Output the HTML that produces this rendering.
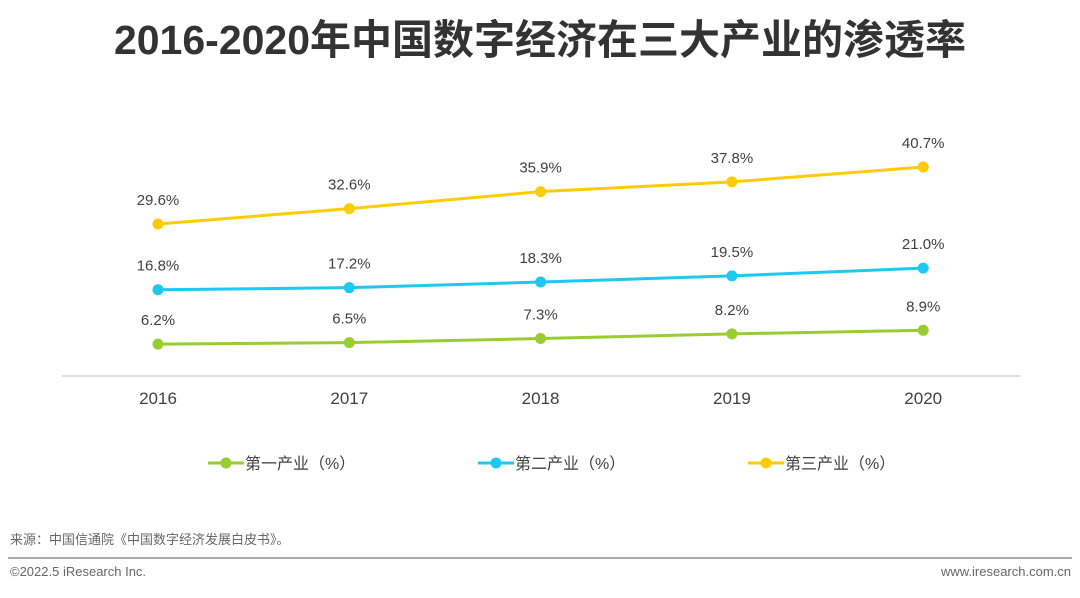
<!DOCTYPE html>
<html><head><meta charset="utf-8"><style>
body{margin:0;width:1080px;height:593px;background:#fff;overflow:hidden;font-family:"Liberation Sans","Noto Sans CJK SC",sans-serif;}
</style></head><body>
<svg width="1080" height="593" xmlns="http://www.w3.org/2000/svg">
<text x="540" y="54" text-anchor="middle" font-size="41" font-weight="bold" fill="#333" font-family="Liberation Sans, Noto Sans CJK SC, sans-serif">2016-2020年中国数字经济在三大产业的渗透率</text>
<line x1="62" y1="376" x2="1020" y2="376" stroke="#bfbfbf" stroke-width="1"/>
<g id="plot"></g>
<g id="legend"></g>
<text x="10" y="544" font-size="13" fill="#666">来源：中国信通院《中国数字经济发展白皮书》。</text>
<line x1="8" y1="558" x2="1072" y2="558" stroke="#aaa" stroke-width="2"/>
<text x="10" y="576" font-size="13" fill="#666">©2022.5 iResearch Inc.</text>
<text x="1071" y="576" font-size="13" fill="#666" text-anchor="end">www.iresearch.com.cn</text>
</svg>
<script>
const years=["2016","2017","2018","2019","2020"];
const primary=[6.2,6.5,7.3,8.2,8.9];
const secondary=[16.8,17.2,18.3,19.5,21.0];
const tertiary=[29.6,32.6,35.9,37.8,40.7];
const seriesNames=["第一产业（%）","第二产业（%）","第三产业（%）"];
const colors=["#9acd32","#1ec8f0","#ffcc00"];
const NS="http://www.w3.org/2000/svg";
const xs=i=>158+i*191.3;
const ys=v=>376-v*5.135;
const plot=document.getElementById('plot');
function mk(tag,attrs,parent){const e=document.createElementNS(NS,tag);for(const k in attrs)e.setAttribute(k,attrs[k]);parent.appendChild(e);return e;}
years.forEach((y,i)=>{
  const t=mk('text',{x:xs(i),y:404,'text-anchor':'middle','font-size':17,fill:'#404040'},plot);
  t.textContent=y;
  
  
});
[primary,secondary,tertiary].forEach((data,s)=>{
  const pts=data.map((v,i)=>xs(i)+','+ys(v)).join(' ');
  const pl=mk('polyline',{points:pts,fill:'none',stroke:colors[s],'stroke-width':3},plot);
  
  
  data.forEach((v,i)=>{
    const c=mk('circle',{cx:xs(i),cy:ys(v),r:5.5,fill:colors[s]},plot);
    
    
    const t=mk('text',{x:xs(i),y:ys(v)-19,'text-anchor':'middle','font-size':15,fill:'#404040'},plot);
    t.textContent=v.toFixed(1)+'%';
    
    
  });
});
const lg=document.getElementById('legend');
const lx=[208,478,748];
seriesNames.forEach((n,s)=>{
  const g=mk('g',{},lg);
  
  
  mk('line',{x1:lx[s],y1:463,x2:lx[s]+36,y2:463,stroke:colors[s],'stroke-width':3},g);
  mk('circle',{cx:lx[s]+18,cy:463,r:5.5,fill:colors[s]},g);
  const t=mk('text',{x:lx[s]+37,y:469,'font-size':16,fill:'#404040'},g);
  t.textContent=n;
});
</script>
</body></html>
